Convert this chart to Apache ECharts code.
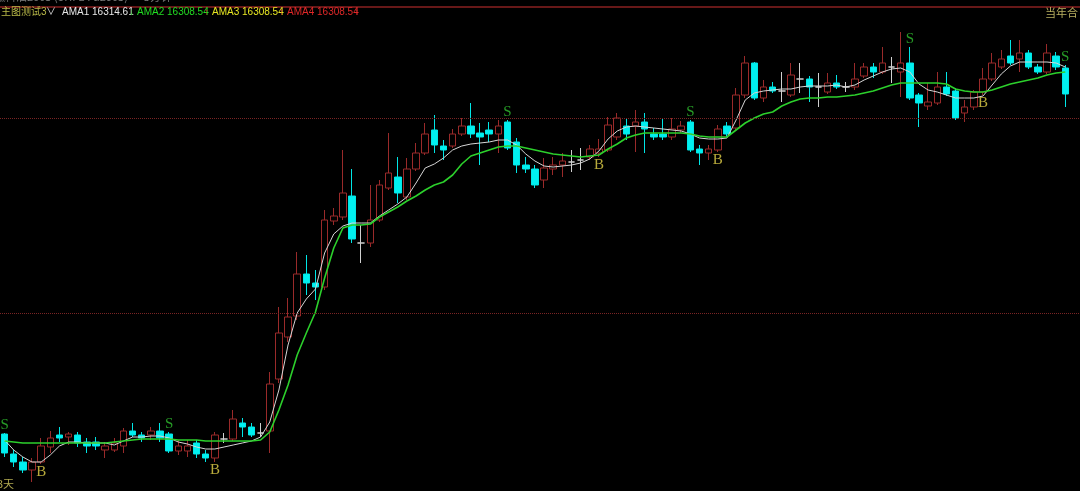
<!DOCTYPE html>
<html><head><meta charset="utf-8">
<script src="https://cdn.jsdelivr.net/npm/echarts@6/dist/echarts.min.js"></script>
<style>html,body{margin:0;padding:0;background:#000;overflow:hidden;}#c{width:1080px;height:491px;}</style>
</head><body><div id="c"></div>
<script>
// ---- data (price units) ----
const open = [16142,16132,16128,16124,16128,16135.5,16141.5,16140.5,16141.5,16138,
16138,16134,16134,16136,16143.5,16141.5,16141.5,16143.5,16142,16133.5,
16133.5,16137.5,16132,16130,16139.5,16139.5,16147.5,16145.5,16142.5,16143.5,
16169.5,16190.5,16201,16222,16217.5,16215.5,16248.5,16250.5,16261,16237.5,
16237.5,16249,16265,16270.5,16260.5,16274.5,16282.5,16294,16286,16286,
16292,16296,16292.5,16294,16292,16298,16288,16276.5,16274.5,16269,
16274.5,16276.5,16278,16279,16280.5,16282.5,16284,16290.5,16296,16296,
16298,16292,16292,16290.5,16294,16298,16284.5,16282.5,16284,16296,
16295,16311.5,16327.5,16310,16315.5,16313.5,16311.5,16319.5,16319.5,16315.5,
16313,16317.5,16315.5,16315.5,16321,16325.5,16323,16325.5,16323,16327.5,
16311.5,16306,16307.5,16315.5,16313.5,16302.5,16305.5,16313,16319.5,16325.5,
16331,16329.5,16332.5,16325.5,16323,16331,16325];
const close = [16132.5,16128,16124,16128,16136,16140,16140,16142,16137.5,16136,
16136,16136,16137.5,16143.5,16141.5,16140,16143.5,16140,16133.5,16136,
16136,16132,16130,16141.5,16139.5,16149.5,16145.5,16141.5,16142.5,16167,
16192.5,16200.5,16222,16217.5,16215.5,16249,16251,16262.5,16239.5,16237.5,
16249,16266.5,16272.5,16262.5,16274.5,16282.5,16292,16286.5,16284,16292,
16296,16292,16290.5,16292,16296,16285,16276.5,16274.5,16266.5,16275,
16276.5,16278.5,16278,16279,16284.5,16284.5,16296.5,16300,16292,16298,
16294.5,16290.5,16290.5,16294.5,16296,16284,16282.5,16284.5,16294.5,16292,
16311.5,16327.5,16310,16315.5,16313.5,16313.5,16321.5,16319.5,16315.5,16315.5,
16317.5,16315.5,16315.5,16319.5,16325.5,16323,16327.5,16325.5,16327.5,16310,
16307.5,16308,16315.5,16312,16300,16305.5,16313,16319.5,16327.5,16329.5,
16327.5,16332.5,16325.5,16323,16332.5,16325.5,16312];
const low = [16130.5,16125.5,16122.5,16118,16127,16132.5,16138,16136.5,16135.5,16132.5,
16134,16130,16133,16132.5,16140.5,16138,16139,16138,16132.5,16131.5,
16130.5,16130,16128,16128,16137.5,16138.5,16140.5,16140.5,16140.5,16132.5,
16167.5,16188,16199,16211.5,16209,16214,16246.5,16249,16237.5,16227.5,
16235.5,16248,16264,16257.5,16259,16273.5,16281.5,16282.5,16279,16285,
16291,16290,16276.5,16288,16282.5,16284,16272.5,16272.5,16265,16265,
16271.5,16270.5,16273,16274,16279,16280.5,16283,16289,16289,16283,
16282.5,16289,16289,16289,16292.5,16283,16276.5,16279,16283,16290.5,
16294,16310,16309,16308,16312.5,16308,16310.5,16312.5,16308,16305.5,
16312,16314.5,16313,16314,16320,16320,16322,16317.5,16310.5,16309,
16295.5,16304,16306.5,16311,16299,16298,16304,16311.5,16318.5,16324.5,
16326.5,16323,16324.5,16322,16322,16324,16305.5];
const high = [16142.5,16134,16130.5,16130,16140,16143.5,16145.5,16143,16143,16140,
16140.5,16138,16140,16145,16147.5,16143,16145.5,16147.5,16143,16139,
16139,16139,16134,16143,16142.5,16154,16150,16147.5,16147.5,16173,
16205.5,16210,16233,16231.5,16224,16254,16255,16284,16274.5,16246.5,
16266.5,16269,16292.5,16280.5,16280,16287.5,16297.5,16301.5,16289,16294.5,
16300,16307.5,16297.5,16298,16299,16299,16290,16280.5,16276.5,16280,
16280.5,16282.5,16284,16285,16286.5,16289.5,16300.5,16302.5,16300,16304,
16302.5,16295,16300,16300,16298.5,16299,16286.5,16286.5,16296.5,16298,
16315,16331,16328,16319,16318,16323,16327.5,16327.5,16321,16322.5,
16322.5,16321.5,16318,16327.5,16327.5,16327.5,16335.5,16330.5,16343,16335.5,
16312.5,16317.5,16323,16323,16315,16309,16314,16325,16332.5,16334,
16339,16339,16334,16327,16337,16333,16326.5];
const ama1 = [16139,16134,16130.5,16128,16128,16131.5,16136,16138,16138,16137.5,
16137.5,16137.5,16136.5,16138.5,16140.5,16140.5,16141,16141,16140,16138,
16137,16135.5,16134.5,16134.5,16135.5,16136.5,16137.5,16138.5,16140.5,16148,
16164,16186.5,16202.5,16209.5,16214.5,16232.5,16242,16246,16247.5,16247.5,
16247.5,16251,16254,16257,16260.5,16267.5,16275,16277,16280,16284,
16286,16287,16287.5,16288,16289,16289,16286.5,16282,16278.5,16276,
16275.5,16276,16276.5,16277.5,16279.5,16283.5,16289.5,16293.5,16295.5,16296,
16295.5,16295,16294.5,16294,16293.5,16292,16290,16289.5,16289.5,16290,
16299,16309,16312.5,16313.5,16314,16314.5,16314.5,16315.5,16316,16316,
16316,16316.5,16315.5,16316.5,16319,16321,16323,16324.5,16325,16323,
16317,16314,16313,16311.5,16310,16310,16310,16311,16316.5,16322,
16326,16328,16328,16328,16328,16327.5,16325.5];
const ama2 = [16138.5,16138,16137.5,16137.5,16137.5,16137.5,16137.5,16137.5,16137.5,16137.5,
16137.5,16137.5,16138,16138.5,16139,16139.5,16139.5,16139.5,16139.5,16139,
16139,16139,16138.5,16138.5,16138.5,16138.5,16138.5,16138.5,16139,16143,
16154,16166.5,16181.5,16192.5,16203,16220,16235,16245,16246.5,16246.5,
16247,16250.5,16253,16255.5,16258.5,16261,16264,16266.5,16268,16271.5,
16277,16281,16282.5,16284,16285.5,16286,16286,16285,16284,16283,
16282,16281.5,16281,16280.5,16281,16281.5,16284.5,16287,16290,16291.5,
16292.5,16292.5,16292.5,16292.5,16292.5,16292,16291,16290.5,16290.5,16290.5,
16294,16297.5,16300,16302,16303,16306,16308,16309.5,16310,16310,
16310.5,16310.5,16311,16311.5,16312.5,16313.5,16315,16316.5,16317.5,16317.5,
16317.5,16317.5,16317.5,16317,16314.5,16313.5,16313,16313,16314,16315.5,
16317,16318,16319,16320,16321.5,16322.5,16323];
const sellIdx = [0, 18, 55, 75, 99, 116];
const buyIdx = [4, 23, 65, 78, 107];
const levels = [16300, 16202.5];
const categories = open.map((_, i) => String(i + 1)).concat(['']);

// ---- build ----
const DOJI = '#d0d0d0';
const candleData = open.map((o, i) => {
  const item = { value: [o, close[i], low[i], high[i]] };
  if (o === close[i]) item.itemStyle = { color: DOJI, color0: DOJI, borderColor: DOJI, borderColor0: DOJI };
  return item;
});
const sellData = sellIdx.map(i => [i, high[i]]);
const buyData = buyIdx.map(i => [i, low[i]]);

const chart = echarts.init(document.getElementById('c'), null, { renderer: 'canvas' });
const hdr = (text, x, color, size) => ({
  type: 'text', left: x, top: 7, silent: true,
  style: { text: text, fill: color, font: (size || 10) + 'px "Liberation Sans", "Noto Sans CJK SC", sans-serif' }
});
chart.setOption({
  backgroundColor: '#000',
  animation: false,
  grid: { left: -3, right: 1, top: 0, bottom: 0 },
  xAxis: { type: 'category', data: categories, boundaryGap: true, show: false },
  yAxis: { type: 'value', min: 16113.5, max: 16359, show: false, splitLine: { show: false } },
  graphic: [
    { type: 'line', silent: true, shape: { x1: 0, y1: 7, x2: 1080, y2: 7 }, style: { stroke: '#8a2020', lineWidth: 1.5 } },
    { type: 'text', left: -6, top: -9, silent: true, style: { text: '燃料油2605 (SHFE Fu2605) · 5分钟 ·', fill: '#7a7a7a', font: '11px "Noto Sans CJK SC", sans-serif' } },
    hdr('主图测试3', 1, '#b8b848', 10),
    hdr('∨', 46, '#d0d0d0', 10),
    hdr('AMA1 16314.61', 62, '#e6e6e6'),
    hdr('↓', 129, '#20c020'),
    hdr('AMA2 16308.54', 137, '#22dd22'),
    hdr('↑', 204, '#e03030'),
    hdr('AMA3 16308.54', 212, '#e6e622'),
    hdr('↑', 279, '#e03030'),
    hdr('AMA4 16308.54', 287, '#e02828'),
    hdr('↑', 354, '#e03030'),
    { type: 'text', right: 2, top: 7, silent: true, style: { text: '当年合', fill: '#b8b060', font: '11px "Noto Sans CJK SC", sans-serif' } },
    { type: 'text', left: -3, top: 478, silent: true, style: { text: '3天', fill: '#b0a850', font: '11px "Noto Sans CJK SC", sans-serif' } }
  ],
  series: [
    {
      type: 'candlestick', data: candleData, barWidth: 7, silent: true,
      itemStyle: { color: '#000', color0: '#00f0f0', borderColor: '#9a2a2a', borderColor0: '#00e6e6', borderWidth: 1 },
      markLine: {
        silent: true, symbol: 'none', label: { show: false },
        lineStyle: { color: '#7a2424', type: 'dotted', width: 1 },
        data: levels.map(v => ({ yAxis: v }))
      }
    },
    { type: 'line', data: ama1, showSymbol: false, silent: true, lineStyle: { color: '#d6d6d6', width: 1 }, z: 3 },
    { type: 'line', data: ama2, showSymbol: false, silent: true, lineStyle: { color: '#2cd02c', width: 1.6 }, z: 3 },
    {
      type: 'scatter', data: sellData, symbol: 'rect', symbolSize: 1, itemStyle: { color: 'rgba(0,0,0,0)' }, silent: true, z: 5,
      label: { show: true, formatter: 'S', position: 'top', distance: 0, color: '#30c030', fontFamily: '"Liberation Serif", serif', fontSize: 15 }
    },
    {
      type: 'scatter', data: buyData, symbol: 'rect', symbolSize: 1, itemStyle: { color: 'rgba(0,0,0,0)' }, silent: true, z: 5,
      label: { show: true, formatter: 'B', position: 'bottom', distance: 0, color: '#e6d44a', fontFamily: '"Liberation Serif", serif', fontSize: 15 }
    }
  ]
});
</script></body></html>
